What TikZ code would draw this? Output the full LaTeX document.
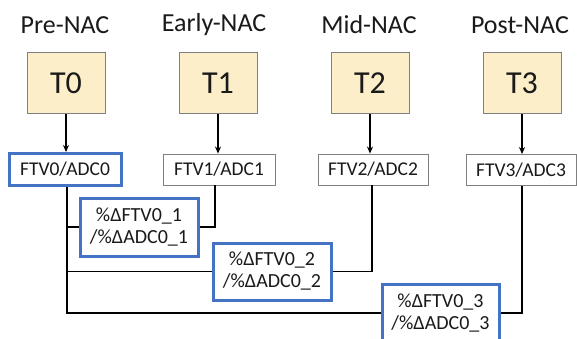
\documentclass[tikz,border=0pt]{standalone}
\usepackage{fontspec}
\setmainfont{Carlito}
\usetikzlibrary{arrows.meta}
\definecolor{boxblue}{HTML}{4472C4}
\definecolor{tyellow}{HTML}{FCEEC9}
\definecolor{tgray}{HTML}{7F7F7F}
\definecolor{txt}{HTML}{1A1A1A}
\begin{document}
\begin{tikzpicture}[x=1pt,y=-1pt,
  every node/.style={text=txt},
  title/.style={font=\fontsize{26}{28}\selectfont, inner sep=0pt},
  tbox/.style={draw=tgray, line width=1pt, fill=tyellow, minimum width=78pt, minimum height=61pt, inner sep=0pt, font=\fontsize{32}{34}\selectfont},
  ftv/.style={draw=tgray, line width=0.9pt, fill=white, minimum width=112pt, minimum height=31pt, inner sep=0pt, font=\fontsize{19.5}{21}\selectfont},
  ftvblue/.style={ftv, draw=boxblue, line width=3pt},
  dbox/.style={draw=boxblue, line width=3pt, fill=white, minimum width=117pt, minimum height=57pt, inner sep=0pt, align=center, font=\fontsize{20}{22}\selectfont},
  arr/.style={line width=1.6pt, -{Stealth[length=7pt,width=6pt]}},
  conn/.style={line width=1.8pt}
]
\useasboundingbox (0,0) rectangle (577,339);
\fill[white] (0,0) rectangle (577,339);
\node[title] (h0) at (65,25) {Pre-NAC};
\node[title] (h1) at (214,25) {Early-NAC};
\node[title] (h2) at (369,25) {Mid-NAC};
\node[title] (h3) at (520,25) {Post-NAC};
\node[tbox] (t0) at (66,83.5) {T0};
\node[tbox] (t1) at (218,83.5) {T1};
\node[tbox] (t2) at (370,83.5) {T2};
\node[tbox] (t3) at (522,83.5) {T3};
\node[ftvblue, minimum height=32pt] (f0) at (65,169.5) {FTV0/ADC0};
\node[ftv] (f1) at (219,169.5) {FTV1/ADC1};
\node[ftv, minimum width=110pt] (f2) at (373,169.5) {FTV2/ADC2};
\node[ftv, minimum width=110pt] (f3) at (521,170) {FTV3/ADC3};
\draw[arr] (t0.south) -- (t0.south |- f0.north);
\draw[arr] (t1.south) -- (t1.south |- f1.north);
\draw[arr] (t2.south) -- (t2.south |- f2.north);
\draw[arr] (t3.south) -- (t3.south |- f3.north);
\coordinate (s0) at ([xshift=2pt]f0.south);
\coordinate (s1) at ([xshift=-4pt]f1.south);
\coordinate (s2) at ([xshift=-1pt]f2.south);
\coordinate (s3) at ([xshift=1pt]f3.south);
\node[dbox, minimum width=118pt, minimum height=58pt] (d1) at (139,227) {\%ΔFTV0\_1\\/\%ΔADC0\_1};
\node[dbox, minimum width=118pt] (d2) at (272,271.5) {\%ΔFTV0\_2\\/\%ΔADC0\_2};
\node[dbox, minimum height=58pt] (d3) at (440.5,313) {\%ΔFTV0\_3\\/\%ΔADC0\_3};
\draw[conn] (s0) |- (d3.west);
\draw[conn] (s0 |- d1.west) -- (d1.west);
\draw[conn] (s0 |- d2.west) -- (d2.west);
\draw[conn] (s1) |- (d1.east);
\draw[conn] (s2) |- (d2.east);
\draw[conn] (s3) |- (d3.east);
\end{tikzpicture}
\end{document}
